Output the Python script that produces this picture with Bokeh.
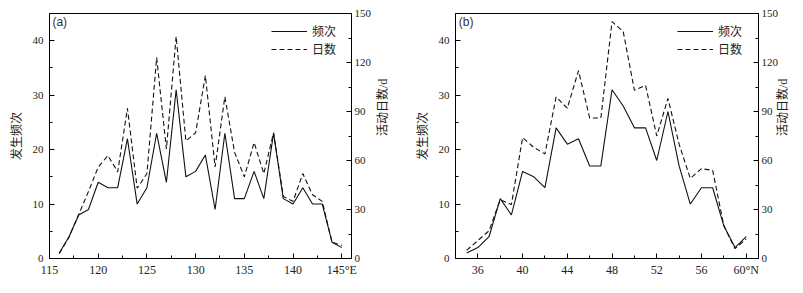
import math
from bokeh.plotting import figure
from bokeh.models import Range1d, LinearAxis, FixedTicker, Legend, LegendItem, Label
from bokeh.layouts import row
from bokeh.embed import file_html
from bokeh.resources import INLINE

# ---- data (a): by longitude ----
lon = list(range(116, 146))
freq_a = [1, 4, 8, 9, 14, 13, 13, 22, 10, 13, 23, 14, 31, 15, 16, 19, 9, 23, 11, 11,
          16, 11, 23, 11, 10, 13, 10, 10, 3, 2]
days_a = [3, 13, 27, 41, 56, 63, 53, 92, 43, 52, 123, 67, 136, 72, 77, 112, 56, 99, 65, 50,
          71, 52, 77, 38, 35, 52, 39, 35, 10, 8]
xticks_a = [115, 120, 125, 130, 135, 140, 145]
xminor_a = [117.5, 122.5, 127.5, 132.5, 137.5, 142.5]
xlabels_a = {145: "145°E"}

# ---- data (b): by latitude ----
lat = list(range(35, 61))
freq_b = [1, 2, 4, 11, 8, 16, 15, 13, 24, 21, 22, 17, 17, 31, 28, 24, 24, 18, 27, 17,
          10, 13, 13, 6, 2, 4]
days_b = [5, 11, 17, 36, 33, 74, 68, 64, 99, 92, 115, 86, 86, 145, 139, 103, 106, 75, 98, 70,
          49, 55, 54, 20, 6, 12]
xticks_b = [36, 40, 44, 48, 52, 56, 60]
xminor_b = [34, 38, 42, 46, 50, 54, 58]
xlabels_b = {60: "60°N"}

yticks_left = [0, 10, 20, 30, 40]
yminor_left = [5, 15, 25, 35]
yticks_right = [0, 30, 60, 90, 120, 150]
yminor_right = [15, 45, 75, 105, 135]

FONT = "'Liberation Serif', 'Noto Sans CJK SC', serif"
TXT = "#222222"


def style_axis(ax, size="11px"):
    ax.axis_line_color = "black"
    ax.major_tick_line_color = "black"
    ax.minor_tick_line_color = "black"
    ax.major_tick_in = 5
    ax.major_tick_out = 0
    ax.minor_tick_in = 3
    ax.minor_tick_out = 0
    ax.major_label_text_font = FONT
    ax.major_label_text_font_size = size
    ax.major_label_text_color = TXT
    ax.axis_label_text_font = FONT
    ax.axis_label_text_font_size = "12px"
    ax.axis_label_text_font_style = "normal"
    ax.axis_label_text_color = TXT


def panel(x, f, d, xr, xt, xm, xlab, tag, width, bl, br, tagx, rstand):
    p = figure(width=width, height=290, x_range=Range1d(*xr), y_range=Range1d(0, 45),
               output_backend="svg", toolbar_location=None,
               min_border_left=bl, min_border_right=br, min_border_top=13, min_border_bottom=32)
    p.extra_y_ranges = {"days": Range1d(0, 150)}
    p.grid.visible = False
    p.outline_line_color = "black"
    p.outline_line_width = 1
    p.background_fill_color = "white"
    p.border_fill_color = "white"

    xa = p.xaxis[0]
    xa.ticker = FixedTicker(ticks=xt, minor_ticks=xm)
    xa.major_label_overrides = xlab
    xa.major_label_standoff = 4
    style_axis(xa, "12px")

    ya = p.yaxis[0]
    ya.ticker = FixedTicker(ticks=yticks_left, minor_ticks=yminor_left)
    ya.axis_label = "发生频次"
    ya.major_label_standoff = 6
    ya.axis_label_standoff = 6
    style_axis(ya)

    ra = LinearAxis(y_range_name="days")
    ra.ticker = FixedTicker(ticks=yticks_right, minor_ticks=yminor_right)
    ra.axis_label = "活动日数/d"
    ra.axis_label_orientation = math.pi / 2
    ra.major_label_standoff = 3
    ra.axis_label_standoff = rstand
    style_axis(ra)
    p.add_layout(ra, "right")

    r1 = p.line(x, f, line_color="#111111", line_width=1.1)
    r2 = p.line(x, d, line_color="#111111", line_width=1.1, line_dash="5 3", y_range_name="days")

    leg = Legend(items=[LegendItem(label="频次", renderers=[r1]),
                        LegendItem(label="日数", renderers=[r2])],
                 location=(222, 200), padding=0, margin=0, spacing=0,
                 glyph_width=36, glyph_height=18, label_height=18, label_standoff=5,
                 label_text_font=FONT, label_text_font_size="12px", label_text_color=TXT,
                 border_line_alpha=0, background_fill_alpha=0)
    p.add_layout(leg)

    p.add_layout(Label(x=tagx, y=43.4, text=tag, text_font="Liberation Sans",
                       text_font_size="12px", text_color="#333333", text_baseline="middle"))
    return p


pa = panel(lon, freq_a, days_a, (115, 146), xticks_a, xminor_a, xlabels_a, "(a)",
           400, 49, 45, 115.3, 9)
pb = panel(lat, freq_b, days_b, (34, 61.1), xticks_b, xminor_b, xlabels_b, "(b)",
           400, 55, 38, 34.3, 2)

layout = row(pa, pb, spacing=0)
open("out.html", "w").write(file_html(layout, INLINE))
